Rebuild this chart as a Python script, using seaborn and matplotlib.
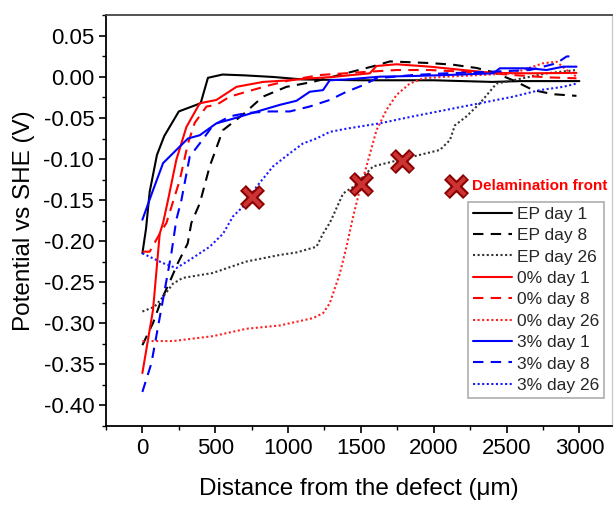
import matplotlib
matplotlib.use("Agg")
import matplotlib.pyplot as plt
import seaborn as sns
import numpy as np
import pandas as pd

# ---------------- data ----------------
ep1_x = [0, 25, 50, 100, 150, 250, 400, 450, 550, 700, 900, 1100, 1500, 2000, 2400, 2600, 3000]
ep1_y = [-0.215, -0.185, -0.14, -0.095, -0.072, -0.042, -0.032, -0.001, 0.003, 0.002, 0.0, -0.003,
         -0.004, -0.004, -0.006, -0.005, -0.005]

ep8_x = [0, 73, 130, 187, 243, 311, 336, 394, 462, 552, 689, 827, 989, 1170, 1583, 1700, 1973,
         2132, 2294, 2406, 2545, 2683, 2820, 2980]
ep8_y = [-0.327, -0.30, -0.272, -0.25, -0.227, -0.203, -0.178, -0.154, -0.109, -0.065, -0.046,
         -0.024, -0.012, -0.006, 0.013, 0.019, 0.017, 0.015, 0.011, 0.006, -0.004, -0.016, -0.021, -0.023]

ep26_x = [0, 84, 142, 210, 277, 483, 714, 943, 1057, 1195, 1240, 1286, 1307, 1378, 1447, 1584,
          1721, 1904, 2042, 2111, 2145, 2225, 2317, 2431, 2545, 2775, 2980]
ep26_y = [-0.286, -0.280, -0.268, -0.252, -0.245, -0.239, -0.225, -0.217, -0.214, -0.207, -0.191,
          -0.178, -0.170, -0.142, -0.134, -0.109, -0.103, -0.095, -0.089, -0.077, -0.059, -0.048,
          -0.032, -0.008, -0.004, 0.0045, 0.0085]

p0d1_x = [0, 73, 119, 142, 176, 233, 302, 394, 508, 577, 646, 828, 1012, 1126, 1300, 1561, 1607,
          1744, 1973, 2202, 2406, 2660, 2980]
p0d1_y = [-0.361, -0.284, -0.191, -0.178, -0.150, -0.101, -0.061, -0.032, -0.028, -0.020, -0.012,
          -0.006, -0.004, -0.002, 0.0, 0.0045, 0.0134, 0.0155, 0.0126, 0.0085, 0.005, 0.0045, 0.005]

p0d8_x = [0, 50, 113, 165, 256, 313, 359, 440, 508, 600, 714, 874, 1012, 1218, 1561, 1744, 1973,
          2200, 2406, 2545, 2775, 2980]
p0d8_y = [-0.213, -0.213, -0.193, -0.178, -0.126, -0.081, -0.056, -0.036, -0.034, -0.024, -0.018,
          -0.010, -0.004, 0.0024, 0.0065, 0.0085, 0.0085, 0.0065, 0.0045, 0.0024, -0.0004, -0.0016]

p0d26_x = [0, 210, 485, 714, 943, 1172, 1240, 1286, 1309, 1355, 1401, 1447, 1492, 1538, 1607, 1676,
           1744, 1836, 1927, 2088, 2317, 2545, 2751, 2843, 2912, 2980]
p0d26_y = [-0.322, -0.322, -0.316, -0.307, -0.303, -0.294, -0.288, -0.276, -0.264, -0.240, -0.207,
           -0.170, -0.138, -0.109, -0.065, -0.040, -0.022, -0.008, -0.0016, 0.0004, 0.0024, 0.0045,
           0.0167, 0.0187, 0.0085, 0.0004]

p3d1_x = [0, 73, 142, 233, 313, 394, 508, 600, 714, 828, 943, 1058, 1149, 1240, 1286, 1401, 1630,
          1858, 2088, 2408, 2454, 2660, 2775, 2889, 2980]
p3d1_y = [-0.174, -0.138, -0.105, -0.089, -0.075, -0.071, -0.0565, -0.052, -0.046, -0.040, -0.034,
          -0.029, -0.018, -0.016, -0.004, -0.003, 0.0004, 0.0012, 0.0024, 0.0045, 0.0106, 0.0106,
          0.0085, 0.0126, 0.0126]

p3d8_x = [0, 62, 107, 153, 199, 233, 268, 325, 394, 485, 600, 714, 874, 1012, 1149, 1286, 1401,
          1515, 1607, 1858, 2088, 2408, 2660, 2843, 2912, 2980]
p3d8_y = [-0.384, -0.349, -0.305, -0.260, -0.215, -0.174, -0.150, -0.097, -0.081, -0.059, -0.048,
          -0.044, -0.042, -0.042, -0.036, -0.028, -0.018, -0.010, -0.0016, 0.0024, 0.0045, 0.0065,
          0.0085, 0.0167, 0.025, 0.0256]

p3d26_x = [0, 142, 233, 325, 462, 554, 622, 691, 783, 897, 1012, 1103, 1195, 1286, 1401, 1630, 1858,
           2088, 2317, 2545, 2728, 2889, 2980]
p3d26_y = [-0.215, -0.227, -0.233, -0.223, -0.207, -0.191, -0.170, -0.158, -0.134, -0.109, -0.093,
           -0.081, -0.075, -0.067, -0.063, -0.0565, -0.048, -0.040, -0.032, -0.024, -0.016, -0.012,
           -0.008]

series_labels = ["EP day 1", "EP day 8", "EP day 26", "0% day 1", "0% day 8", "0% day 26",
                 "3% day 1", "3% day 8", "3% day 26"]

front_x = [750, 1500, 1780]
front_y = [-0.146, -0.131, -0.102]
front_label = "Delamination front"
front_key_x = [2150]
front_key_y = [-0.133]

xticks = [0, 500, 1000, 1500, 2000, 2500, 3000]
yticks = [-0.40, -0.35, -0.30, -0.25, -0.20, -0.15, -0.10, -0.05, 0.00, 0.05]

# ---------------- style ----------------
sns.set_theme(style="white")
plt.rcParams["font.family"] = ["Liberation Sans", "DejaVu Sans"]
plt.rcParams["axes.unicode_minus"] = False

fig = plt.figure(figsize=(6.14, 5.05), dpi=100)
ax = fig.add_axes([0.1726, 0.1564, 0.8244, 0.8139])

xs = [ep1_x, ep8_x, ep26_x, p0d1_x, p0d8_x, p0d26_x, p3d1_x, p3d8_x, p3d26_x]
ys = [ep1_y, ep8_y, ep26_y, p0d1_y, p0d8_y, p0d26_y, p3d1_y, p3d8_y, p3d26_y]
colors = ["black", "black", "#333333", "#ff0000", "#ff0000", "#ff2020", "#0000ff", "#0000ff", "#1a1aff"]
styles = ["-", (0, (5, 3.5)), (0, (1, 1.2)), "-", (0, (5, 3.5)), (0, (1, 1.2)), "-", (0, (5, 3.5)), (0, (1, 1.2))]

handles = []
for x, y, c, ls, lab in zip(xs, ys, colors, styles, series_labels):
    df = pd.DataFrame({"x": x, "y": y})
    sns.lineplot(data=df, x="x", y="y", ax=ax, color=c, linewidth=1.5, sort=False,
                 estimator=None, label=lab)
    ax.lines[-1].set_linestyle(ls)
    handles.append(ax.lines[-1])

# outlined "x" markers: dark thick stroke underneath, lighter red stroke on top
for fx, fy in [(front_x, front_y), (front_key_x, front_key_y)]:
    sns.scatterplot(x=fx, y=fy, ax=ax, marker="x", s=190, color="#8b0000",
                    linewidth=6.0, zorder=5, legend=False)
    sns.scatterplot(x=fx, y=fy, ax=ax, marker="x", s=150, color="#cc3333",
                    linewidth=3.0, zorder=6, legend=False)
ax.annotate(front_label, xy=(front_key_x[0], front_key_y[0]), xytext=(12, 0),
            textcoords="offset points", va="center", ha="left", color="#ff0000",
            fontsize=11, fontweight="bold")

ax.set_xlim(-250, 3225)
ax.set_ylim(-0.4256, 0.0756)
ax.set_xticks(xticks)
ax.set_yticks(yticks)
ax.set_yticklabels([f"{v:.2f}" for v in yticks])
ax.xaxis.set_minor_locator(matplotlib.ticker.MultipleLocator(250))
ax.yaxis.set_minor_locator(matplotlib.ticker.MultipleLocator(0.025))
ax.tick_params(which="major", direction="out", length=5, width=1.2, labelsize=16, color="black",
               labelcolor="black", bottom=True, left=True)
ax.tick_params(which="minor", direction="out", length=3, width=1.0, color="black", bottom=True, left=True)

ax.set_xlabel("Distance from the defect (\u03bcm)", fontsize=17.5, color="black", labelpad=14)
ax.set_ylabel("Potential vs SHE (V)", fontsize=17.5, color="black", labelpad=6)

for s in ["left", "bottom", "top"]:
    ax.spines[s].set_color("black")
    ax.spines[s].set_linewidth(1.3)
ax.spines["top"].set_color("#444444")
ax.spines["right"].set_color("#cccccc")
ax.spines["right"].set_linewidth(1.0)

leg = ax.legend(handles=handles, labels=series_labels, loc="upper left",
                bbox_to_anchor=((467.7 - 106) / (612 - 106), 1 - (201.7 - 15) / (426 - 15)),
                fontsize=12.5, frameon=True, fancybox=False, handlelength=2.25,
                handletextpad=0.3, labelspacing=0.36, borderpad=0.28, borderaxespad=0.0)
leg.get_frame().set_edgecolor("#999999")
leg.get_frame().set_linewidth(1.2)

fig.savefig("out.png", dpi=100)
